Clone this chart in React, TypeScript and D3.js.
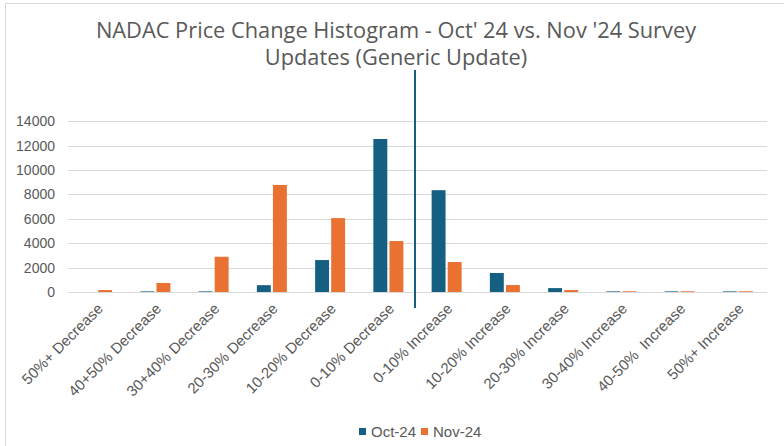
import React from "react";
import * as d3 from "d3";

const categories = [
  "50%+ Decrease",
  "40+50% Decrease",
  "30+40% Decrease",
  "20-30% Decrease",
  "10-20% Decrease",
  "0-10% Decrease",
  "0-10% Increase",
  "10-20% Increase",
  "20-30% Increase",
  "30-40% Increase",
  "40-50%  Increase",
  "50%+ Increase",
];
const seriesNames = ["Oct-24", "Nov-24"];
const oct24 = [0, 50, 50, 560, 2620, 12550, 8350, 1560, 320, 50, 50, 50];
const nov24 = [160, 740, 2890, 8780, 6060, 4180, 2460, 570, 160, 60, 60, 60];
const yTicks = [0, 2000, 4000, 6000, 8000, 10000, 12000, 14000];
const titleLines = [
  "NADAC Price Change Histogram - Oct' 24 vs. Nov '24 Survey",
  "Updates (Generic Update)",
];

const colors = ["#156082", "#E97132"];
const textColor = "#595959";
const gridColor = "#d9d9d9";
const axisFont = "'Liberation Sans', Arial, sans-serif";
const titleFont = "'Open Sans', 'Liberation Sans', sans-serif";

export default function App() {
  const W = 784;
  const H = 446;
  const left = 68;
  const right = 767;
  const top = 121.3;
  const bottom = 292;

  const x = d3.scaleBand<string>().domain(categories).range([left, right]);
  const y = d3.scaleLinear().domain([0, 14000]).range([bottom, top]);
  const groupW = 30;
  const x1 = d3
    .scaleBand<string>()
    .domain(seriesNames)
    .range([0, groupW])
    .paddingInner(0.133);
  const data = [oct24, nov24];

  const lineX = (x(categories[6]) as number) - 2.5;

  return (
    <svg
      width={W}
      height={H}
      style={{ position: "absolute", left: 0, top: 0, background: "#fff" }}
    >
      <rect x={0} y={0} width={W} height={H} fill="#fff" />
      <line x1={5} y1={3.5} x2={W} y2={3.5} stroke={gridColor} strokeWidth={1} />
      <line x1={5.5} y1={3} x2={5.5} y2={H} stroke={gridColor} strokeWidth={1} />

      {titleLines.map((t, i) => (
        <text
          key={i}
          x={396}
          y={38 + i * 27}
          textAnchor="middle"
          fontFamily={titleFont}
          fontSize={21.8}
          fill={textColor}
        >
          {t}
        </text>
      ))}

      {yTicks.map((t) => (
        <g key={t}>
          <line
            x1={left}
            x2={right}
            y1={Math.round(y(t)) + 0.5}
            y2={Math.round(y(t)) + 0.5}
            stroke={gridColor}
            strokeWidth={1}
          />
          <text
            x={55}
            y={y(t)}
            dy="0.35em"
            textAnchor="end"
            fontFamily={axisFont}
            fontSize={14}
            fill={textColor}
          >
            {t}
          </text>
        </g>
      ))}

      {categories.map((c, ci) => {
        const x0 = (x(c) as number) + x.bandwidth() / 2 - groupW / 2;
        return (
          <g key={c}>
            {seriesNames.map((s, si) => {
              const v = data[si][ci];
              return (
                <rect
                  key={s}
                  x={x0 + (x1(s) as number)}
                  y={y(v)}
                  width={x1.bandwidth()}
                  height={bottom - y(v)}
                  fill={colors[si]}
                />
              );
            })}
          </g>
        );
      })}

      {categories.map((c) => {
        const cx = (x(c) as number) + x.bandwidth() / 2 + 3;
        return (
          <text
            key={c}
            transform={`translate(${cx},${bottom + 14}) rotate(-45)`}
            textAnchor="end"
            dy="0.35em"
            fontFamily={axisFont}
            fontSize={15}
            fill={textColor}
            style={{ whiteSpace: "pre" }}
          >
            {c}
          </text>
        );
      })}

      <line
        x1={lineX}
        x2={lineX}
        y1={70}
        y2={308}
        stroke={colors[0]}
        strokeWidth={2}
      />

      {seriesNames.map((s, i) => {
        const lx = i === 0 ? 359 : 421;
        return (
          <g key={s}>
            <rect x={lx} y={428} width={7} height={7} fill={colors[i]} />
            <text
              x={lx + 12}
              y={431.5}
              dy="0.35em"
              fontFamily={axisFont}
              fontSize={15}
              fill={textColor}
            >
              {s}
            </text>
          </g>
        );
      })}
    </svg>
  );
}
